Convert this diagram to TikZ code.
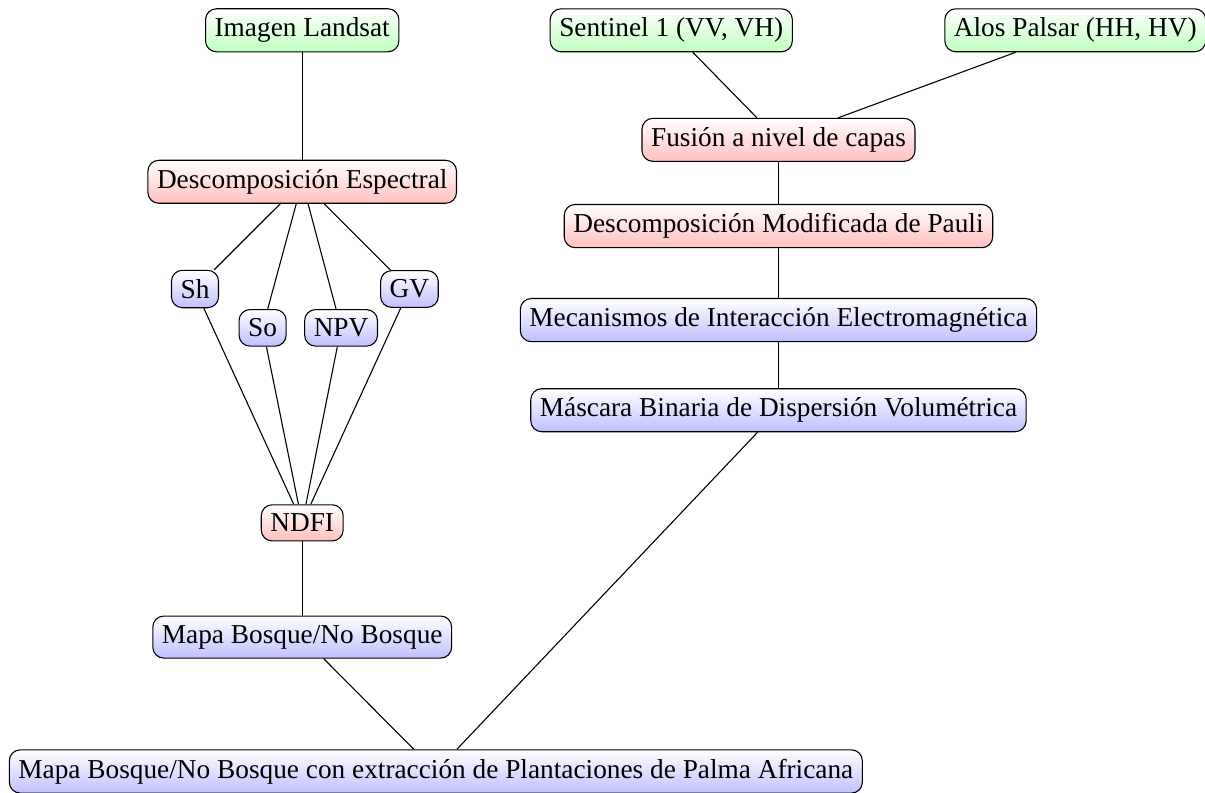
\documentclass[tikz,border=0pt]{standalone}
\usepackage{fontspec}
\setmainfont{Liberation Serif}
\usetikzlibrary{calc}
\begin{document}
\begin{tikzpicture}[
    caja/.style = {draw, rounded corners, top color = white},
    entrada/.style = {caja, bottom color = green!25},
    proceso/.style = {caja, bottom color = red!25},
    producto/.style = {caja, bottom color = blue!25}]
      \useasboundingbox (0, 0) rectangle (15.51, -10.20);
      % datos de entrada
      \node [entrada] (landsat)  at ( 3.89, -0.39) {Imagen Landsat};
      \node [entrada] (sentinel) at ( 8.64, -0.39) {Sentinel 1 (VV, VH)};
      \node [entrada] (alos)     at (13.84, -0.39) {Alos Palsar (HH, HV)};
      % rama optica
      \node [proceso]  (espectral) at (3.89, -2.34) {Descomposición Espectral};
      \node [producto] (sh)  at (2.51, -3.72) {Sh};
      \node [producto] (so)  at (3.38, -4.22) {So};
      \node [producto] (npv) at (4.39, -4.22) {NPV};
      \node [producto] (gv)  at (5.27, -3.72) {GV};
      \node [proceso]  (ndfi) at (3.89, -6.73) {NDFI};
      \node [producto] (mapa) at (3.89, -8.20) {Mapa Bosque/No Bosque};
      % rama radar
      \node [proceso]  (fusion) at (10.02, -1.80) {Fusión a nivel de capas};
      \node [proceso]  (pauli)  at (10.02, -2.91) {Descomposición Modificada de Pauli};
      \node [producto] (mecanismos) at (10.02, -4.12) {Mecanismos de Interacción Electromagnética};
      \node [producto] (mascara)    at (10.02, -5.28) {Máscara Binaria de Dispersión Volumétrica};
      % resultado
      \node [producto] (final) at (5.61, -9.93)
        {Mapa Bosque/No Bosque con extracción de Plantaciones de Palma Africana};

      \draw (landsat) -- (espectral);
      \foreach \c in {sh, so, npv, gv} {
        \draw (espectral) -- (\c);
        \draw (\c) -- (ndfi);
      }
      \draw (ndfi) -- (mapa);
      \draw (mapa) -- (final);
      \draw (sentinel) -- (fusion);
      \draw (alos) -- (fusion);
      \draw (fusion) -- (pauli);
      \draw (pauli) -- (mecanismos);
      \draw (mecanismos) -- (mascara);
      \draw (mascara) -- (final);
    \end{tikzpicture}
\end{document}
